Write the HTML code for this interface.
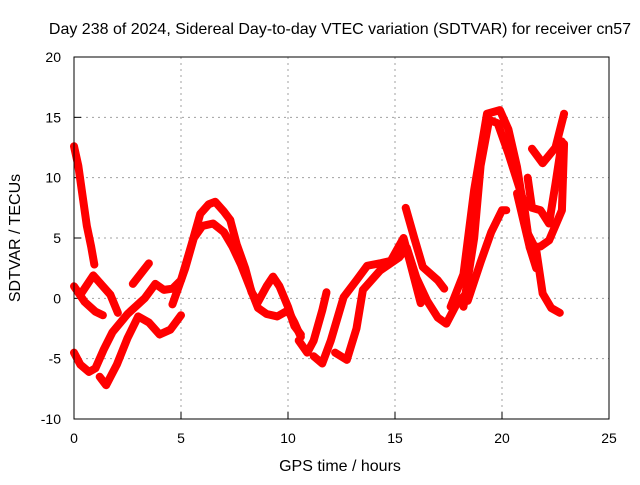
<!DOCTYPE html>
<html><head><meta charset="utf-8"><style>
body{margin:0;background:#fff}
svg text{font-family:"Liberation Sans",sans-serif;font-size:14px;fill:#000}
svg text.big{font-size:16px}
</style></head><body>
<svg id="c" width="640" height="480"></svg>
<script>
const xTicks=[0,5,10,15,20,25];
const yTicks=[-10,-5,0,5,10,15,20];
const trackA=[[0,12.6],[0.2,11],[0.4,8.5],[0.6,6],[0.8,4.3],[0.95,2.8]];
const trackB1=[[0,1],[0.5,-0.3],[1.0,-1.1],[1.35,-1.4]];
const trackB2=[[0.3,0.3],[0.9,1.9],[1.7,0.3],[2.05,-1.2]];
const trackC=[[0,-4.5],[0.3,-5.5],[0.7,-6.1],[1.0,-5.8],[1.4,-4.2],[1.8,-2.8],[2.5,-1.3],[3.3,0],[3.8,1.2],[4.2,0.7],[4.6,0.8],[5.0,1.5],[5.5,4.5],[5.9,7],[6.3,7.8],[6.6,8],[7.0,7.2],[7.3,6.5]];
const trackD=[[1.2,-6.5],[1.5,-7.2],[2.0,-5.5],[2.5,-3.3],[3.0,-1.5],[3.5,-2.0],[4.0,-3.0],[4.5,-2.6],[5.0,-1.4]];
const trackE=[[4.6,-0.5],[5.2,2.5],[5.6,5.0],[6.0,6.0],[6.5,6.2],[7.0,5.5],[7.4,4.3],[7.8,2.8],[8.2,1.0],[8.6,-0.8],[9.0,-1.3],[9.5,-1.5],[10.0,-1.0],[10.3,-2.0],[10.6,-3.2]];
const trackF=[[7.3,6.5],[7.6,4.5],[8.0,2.5],[8.3,0.5],[8.6,-0.3],[9.0,1.0],[9.3,1.8],[9.6,1.0],[10.0,-0.7],[10.3,-2.3],[10.6,-3]];
const trackH=[[2.75,1.2],[3.5,2.9]];
const trackI=[[10.5,-3.5],[10.9,-4.5],[11.2,-3.5],[11.6,-1],[11.8,0.5]];
const trackJ=[[11.2,-4.8],[11.6,-5.4],[12.0,-3.5],[12.6,0.1],[13.2,1.5],[13.7,2.7],[14.3,2.9],[14.8,3.1],[15.4,5],[15.7,3],[16.2,-0.4]];
const trackK=[[12.2,-4.5],[12.75,-5.1],[13.2,-2.5],[13.5,0.7],[14.3,2.3],[15.2,3.4],[15.55,4.2],[16.0,1.7],[16.5,-0.2],[17.0,-1.6],[17.4,-2.1],[17.9,-0.4],[18.5,0.7]];
const trackL=[[15.5,7.5],[15.9,5],[16.3,2.6],[17,1.5],[17.3,0.8]];
const trackM=[[17.6,-0.7],[18.2,2],[18.7,9],[19.3,15.3],[19.9,15.6],[20.3,14],[20.7,10.9],[21.2,5.4],[21.6,4],[21.9,0.4],[22.3,-0.8],[22.7,-1.2]];
const trackN=[[18.2,-0.7],[18.7,5],[19.0,11],[19.4,14.8],[19.8,14.5],[20.3,12],[21.0,8.1],[21.3,4.2],[21.6,2.5]];
const trackO=[[18.4,-0.2],[19.0,3],[19.5,5.5],[20.0,7.3],[20.2,7.3]];
const trackP=[[21.4,12.4],[21.9,11.2],[22.5,12.5],[22.9,15.3]];
const trackR=[[20.7,8.7],[21.3,4.2],[21.8,4.3],[22.2,4.8],[22.8,7.3],[22.9,12.8]];
const trackQ=[[21.2,10],[21.4,7.5],[21.8,7.3],[22.2,6.2],[22.5,9.5],[22.8,13]];
const tracks=[trackA,trackB1,trackB2,trackC,trackD,trackE,trackF,trackH,trackI,trackJ,trackK,trackL,trackM,trackN,trackO,trackP,trackR,trackQ];

const L=74,R=609,T=57,B=419;
const sx=v=>L+(v-0)/25*(R-L);
const sy=v=>B-(v+10)/30*(B-T);
const svg=document.getElementById('c');
const NS='http://www.w3.org/2000/svg';
function mk(tag,attrs){const e=document.createElementNS(NS,tag);for(const k in attrs)e.setAttribute(k,attrs[k]);svg.appendChild(e);return e;}

xTicks.forEach(v=>{
  if(v>0&&v<25){const g=mk('line',{x1:sx(v),x2:sx(v),y1:T,y2:B,stroke:'#a0a0a0','stroke-dasharray':'2,4'});
  
  }
  const tk=mk('line',{x1:sx(v),x2:sx(v),y1:B,y2:B-7,stroke:'#000'});
  
  
  const t=mk('text',{x:sx(v),y:B+24,'text-anchor':'middle'});t.textContent=v;
  
  
});
yTicks.forEach(v=>{
  if(v>-10&&v<20){const g=mk('line',{x1:L,x2:R,y1:sy(v),y2:sy(v),stroke:'#a0a0a0','stroke-dasharray':'2,4'});
  
  }
  const tk=mk('line',{x1:L,x2:L+7,y1:sy(v),y2:sy(v),stroke:'#000'});
  
  
  const t=mk('text',{x:L-13,y:sy(v)+5,'text-anchor':'end'});t.textContent=v;
  
  
});
tracks.forEach(tr=>{
  const p=mk('polyline',{points:tr.map(d=>sx(d[0])+','+sy(d[1])).join(' '),fill:'none',stroke:'#f00','stroke-width':8,'stroke-linejoin':'round','stroke-linecap':'round'});
  
  
});
const fr=mk('rect',{x:L,y:T,width:R-L,height:B-T,fill:'none',stroke:'#000'});


const ti=mk('text',{x:340,y:34,'text-anchor':'middle','class':'big'});ti.textContent='Day 238 of 2024, Sidereal Day-to-day VTEC variation (SDTVAR) for receiver cn57';


const xl=mk('text',{x:340,y:471,'text-anchor':'middle','class':'big'});xl.textContent='GPS time / hours';


const yl=mk('text',{x:0,y:0,'text-anchor':'middle','class':'big',transform:'translate(20,238) rotate(-90)'});yl.textContent='SDTVAR / TECUs';


</script>
</body></html>
